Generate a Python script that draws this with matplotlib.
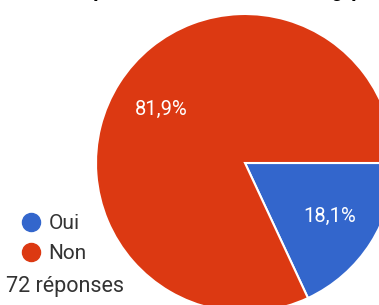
import matplotlib.pyplot as plt
from matplotlib.lines import Line2D

plt.rcParams['font.family'] = ['Roboto', 'DejaVu Sans']

# data
labels = ['Oui', 'Non']
counts = [13, 59]
colors = ['#3366cc', '#dc3912']
total_text = '72 réponses'

W, H = 379, 305
fig = plt.figure(figsize=(W / 100, H / 100), dpi=100)
ax = fig.add_axes([0, 0, 1, 1])

# pie, partly cut by the figure edges
wedges, _, autotexts = ax.pie(
    counts,
    colors=colors,
    center=(245, H - 163),
    radius=149,
    startangle=0,
    counterclock=False,
    autopct=lambda p: f'{p:.1f}%'.replace('.', ','),
    pctdistance=0.67,
    wedgeprops=dict(edgecolor='white', linewidth=1.5),
    textprops=dict(color='white', fontsize=14.5),
    frame=True,
)
ax.set_xlim(0, W)
ax.set_ylim(0, H)
ax.axis('off')

# legend
handles = [Line2D([], [], marker='o', linestyle='', markersize=13,
                  markerfacecolor=c, markeredgecolor=c) for c in colors]
leg = ax.legend(handles, labels, loc='upper left',
                bbox_to_anchor=(20.5 / W, 1 - 214 / H), frameon=False,
                fontsize=15, handletextpad=0.35, labelspacing=0.55,
                handlelength=1.0, borderaxespad=0, borderpad=0)
for t in leg.get_texts():
    t.set_color('#333333')
fig.text(6 / W, 1 - 292 / H, total_text, fontsize=15.5, color='#333333',
         va='baseline', ha='left')

# title sits above the visible area; only descender tips show
for x, ch in [(100, 'p'), (338, 'g'), (358, 'p')]:
    fig.text(x / W, 1 + 3 / H, ch, fontsize=15, fontweight='bold',
             fontstyle='italic', ha='center', va='baseline', color='black')

fig.savefig('out.png', dpi=100)
